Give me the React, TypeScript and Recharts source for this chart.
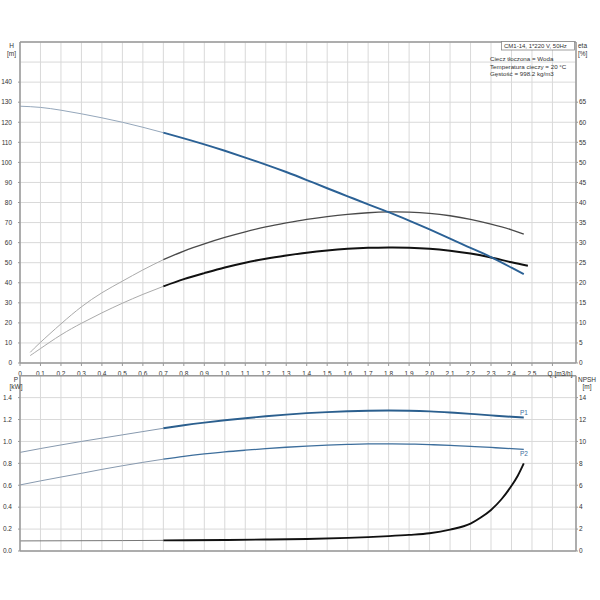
import React from 'react';
import { LineChart, Line, XAxis, YAxis, CartesianGrid, ReferenceLine } from 'recharts';

// ---- axis ticks ----
const qTicks = [0, 0.1, 0.2, 0.3, 0.4, 0.5, 0.6, 0.7, 0.8, 0.9, 1.0, 1.1, 1.2, 1.3, 1.4, 1.5, 1.6, 1.7, 1.8, 1.9, 2.0, 2.1, 2.2, 2.3, 2.4, 2.5, 2.6];
const hTicks = [0, 10, 20, 30, 40, 50, 60, 70, 80, 90, 100, 110, 120, 130, 140];
const etaTicks = [0, 5, 10, 15, 20, 25, 30, 35, 40, 45, 50, 55, 60, 65];
const pTicks = [0, 0.2, 0.4, 0.6, 0.8, 1.0, 1.2, 1.4];
const npshTicks = [0, 2, 4, 6, 8, 10, 12, 14];

// ---- Q-H curve ----
const qHead = [0, 0.1, 0.2, 0.3, 0.4, 0.5, 0.6, 0.7, 0.8, 0.9, 1.0, 1.1, 1.2, 1.3, 1.4, 1.5, 1.6, 1.7, 1.8, 1.9, 2.0, 2.1, 2.2, 2.3, 2.4, 2.46];
const head = [128, 127.4, 126, 124.2, 122.2, 120, 117.5, 114.8, 112, 109, 105.8, 102.4, 98.9, 95.2, 91.2, 87.1, 83.1, 79.1, 75.2, 71.0, 66.6, 62.0, 57.4, 52.8, 47.5, 44.3];

// ---- efficiency curves [%] ----
const qEtaPump = [0.05, 0.1, 0.2, 0.3, 0.4, 0.5, 0.6, 0.7, 0.8, 0.9, 1.0, 1.1, 1.2, 1.3, 1.4, 1.5, 1.6, 1.7, 1.8, 1.9, 2.0, 2.1, 2.2, 2.3, 2.4, 2.46];
const etaPump = [2.65, 5.15, 9.75, 14.0, 17.5, 20.4, 23.2, 25.75, 27.9, 29.7, 31.3, 32.7, 33.9, 34.9, 35.8, 36.5, 37.05, 37.45, 37.65, 37.6, 37.3, 36.7, 35.8, 34.6, 33.2, 32.1];
const qEtaTotal = [0.05, 0.1, 0.2, 0.3, 0.4, 0.5, 0.6, 0.7, 0.8, 0.9, 1.0, 1.1, 1.2, 1.3, 1.4, 1.5, 1.6, 1.7, 1.8, 1.9, 2.0, 2.1, 2.2, 2.3, 2.4, 2.48];
const etaTotal = [1.85, 3.6, 7.0, 9.9, 12.5, 14.9, 17.1, 19.1, 20.9, 22.4, 23.8, 25.0, 26.0, 26.8, 27.5, 28.05, 28.45, 28.7, 28.8, 28.75, 28.5, 28.0, 27.3, 26.3, 25.1, 24.25];

// ---- power curves [kW] ----
const qPower = [0, 0.1, 0.2, 0.3, 0.4, 0.5, 0.6, 0.7, 0.8, 0.9, 1.0, 1.1, 1.2, 1.3, 1.4, 1.5, 1.6, 1.7, 1.8, 1.9, 2.0, 2.1, 2.2, 2.3, 2.4, 2.46];
const p1 = [0.9, 0.935, 0.968, 1.0, 1.03, 1.06, 1.09, 1.12, 1.148, 1.172, 1.193, 1.212, 1.23, 1.245, 1.258, 1.268, 1.275, 1.28, 1.282, 1.28, 1.274, 1.264, 1.252, 1.238, 1.225, 1.218];
const p2 = [0.603, 0.64, 0.675, 0.709, 0.745, 0.778, 0.809, 0.838, 0.864, 0.886, 0.905, 0.92, 0.934, 0.947, 0.958, 0.967, 0.973, 0.977, 0.978, 0.976, 0.971, 0.964, 0.955, 0.945, 0.934, 0.927];

// ---- NPSH [m] ----
const qNpsh = [0, 0.5, 0.7, 1.0, 1.2, 1.4, 1.6, 1.7, 1.8, 1.9, 2.0, 2.1, 2.2, 2.25, 2.3, 2.35, 2.4, 2.43, 2.46];
const npsh = [0.92, 0.95, 0.97, 1.0, 1.05, 1.1, 1.2, 1.27, 1.36, 1.47, 1.62, 1.95, 2.5, 3.05, 3.75, 4.7, 5.95, 6.85, 8.0];

const CUT = 0.7;
function build(q: number[], v: number[]) {
  const pts = q.map((x, i) => ({ q: x, v: v[i] }));
  return { thin: pts.filter((p) => p.q <= CUT), thick: pts.filter((p) => p.q >= CUT) };
}
const headD = build(qHead, head);
const etaPD = build(qEtaPump, etaPump);
const etaTD = build(qEtaTotal, etaTotal);
const p1D = build(qPower, p1);
const p2D = build(qPower, p2);
const npshD = build(qNpsh, npsh);

const FONT = 'Liberation Sans, Arial, sans-serif';
const tickStyle = { fontSize: 6.5, fill: '#333', fontFamily: FONT };
const axisLine = { stroke: '#999', strokeWidth: 1.5 };
const gridColor = '#d9d9d9';
const Q_MAX = 2.715;

const fmtQ = (v: number) => (v === 2.6 ? '' : v === 0 ? '0' : v.toFixed(1).replace('.', ','));

export default function App() {
  return (
    <div style={{ position: 'absolute', left: 0, top: 0, width: 600, height: 600, fontFamily: FONT, background: '#fff' }}>
      <div style={{ position: 'absolute', left: 0, top: 0 }}>
        <LineChart width={600} height={385} margin={{ top: 42, right: 0, bottom: 0, left: 0 }}>
          <CartesianGrid yAxisId="h" stroke={gridColor} strokeWidth={1} />
          <XAxis type="number" dataKey="q" domain={[0, Q_MAX]} ticks={qTicks} tickFormatter={fmtQ} interval={0}
            height={22} tick={tickStyle} tickSize={3} tickMargin={5} axisLine={axisLine} tickLine={{ stroke: '#999' }} allowDataOverflow />
          <YAxis yAxisId="h" orientation="left" type="number" domain={[0, 160]} ticks={hTicks} interval={0} width={20}
            tick={tickStyle} tickSize={2} tickMargin={6} axisLine={axisLine} tickLine={{ stroke: '#999' }} />
          <YAxis yAxisId="eta" orientation="right" type="number" domain={[0, 80]} ticks={etaTicks} interval={0} width={24}
            tick={tickStyle} tickSize={2} tickMargin={1} axisLine={axisLine} tickLine={{ stroke: '#999' }} />
          <ReferenceLine yAxisId="h" y={150} stroke={gridColor} />
          <ReferenceLine yAxisId="h" y={160} stroke="#999" strokeWidth={1.5} />
          <Line yAxisId="eta" data={etaPD.thin} dataKey="v" type="natural" stroke="#aaaaaa" strokeWidth={1} dot={false} isAnimationActive={false} />
          <Line yAxisId="eta" data={etaPD.thick} dataKey="v" type="natural" stroke="#4a4a4a" strokeWidth={1.3} dot={false} isAnimationActive={false} />
          <Line yAxisId="eta" data={etaTD.thin} dataKey="v" type="natural" stroke="#aaaaaa" strokeWidth={1} dot={false} isAnimationActive={false} />
          <Line yAxisId="eta" data={etaTD.thick} dataKey="v" type="natural" stroke="#111111" strokeWidth={2} dot={false} isAnimationActive={false} />
          <Line yAxisId="h" data={headD.thin} dataKey="v" type="natural" stroke="#95a7bb" strokeWidth={1} dot={false} isAnimationActive={false} />
          <Line yAxisId="h" data={headD.thick} dataKey="v" type="natural" stroke="#2b6195" strokeWidth={1.9} dot={false} isAnimationActive={false} />
        </LineChart>
      </div>
      <div style={{ position: 'absolute', left: 0, top: 360 }}>
        <LineChart width={600} height={205} margin={{ top: 15.7, right: 0, bottom: 0, left: 0 }}>
          <CartesianGrid yAxisId="p" stroke={gridColor} strokeWidth={1} />
          <XAxis type="number" dataKey="q" domain={[0, Q_MAX]} ticks={qTicks} interval={0} height={14}
            tickFormatter={() => ''} tickLine={false} axisLine={axisLine} allowDataOverflow />
          <YAxis yAxisId="p" orientation="left" type="number" domain={[0, 1.6]} ticks={pTicks} interval={0} width={20}
            tickFormatter={(v: number) => v.toFixed(1)}
            tick={tickStyle} tickSize={2} tickMargin={6} axisLine={axisLine} tickLine={{ stroke: '#999' }} />
          <YAxis yAxisId="n" orientation="right" type="number" domain={[0, 16]} ticks={npshTicks} interval={0} width={24}
            tick={tickStyle} tickSize={2} tickMargin={1} axisLine={axisLine} tickLine={{ stroke: '#999' }} />
          <ReferenceLine yAxisId="p" y={1.6} stroke="#999" strokeWidth={1.5} />
          <Line yAxisId="p" data={p1D.thin} dataKey="v" type="natural" stroke="#8799ae" strokeWidth={1} dot={false} isAnimationActive={false} />
          <Line yAxisId="p" data={p1D.thick} dataKey="v" type="natural" stroke="#2b5f8e" strokeWidth={1.9} dot={false} isAnimationActive={false} />
          <Line yAxisId="p" data={p2D.thin} dataKey="v" type="natural" stroke="#8799ae" strokeWidth={1} dot={false} isAnimationActive={false} />
          <Line yAxisId="p" data={p2D.thick} dataKey="v" type="natural" stroke="#3d6e9c" strokeWidth={1.3} dot={false} isAnimationActive={false} />
          <Line yAxisId="n" data={npshD.thin} dataKey="v" type="monotone" stroke="#777777" strokeWidth={1} dot={false} isAnimationActive={false} />
          <Line yAxisId="n" data={npshD.thick} dataKey="v" type="monotone" stroke="#111111" strokeWidth={1.9} dot={false} isAnimationActive={false} />
        </LineChart>
      </div>
      <svg width={600} height={600} style={{ position: 'absolute', left: 0, top: 0, pointerEvents: 'none' }}
        fontFamily={FONT} fill="#333">
        <text x={11.5} y={47.5} fontSize={6.5} textAnchor="middle">H</text>
        <text x={11.5} y={56} fontSize={6.5} textAnchor="middle">[m]</text>
        <text x={578} y={47.5} fontSize={6.5}>eta</text>
        <text x={578} y={56} fontSize={6.5}>[%]</text>
        <text x={16} y={381.5} fontSize={6.5} textAnchor="middle">P</text>
        <text x={16} y={389} fontSize={6.5} textAnchor="middle">[kW]</text>
        <text x={587} y={381.5} fontSize={6.5} textAnchor="middle">NPSH</text>
        <text x={587} y={389} fontSize={6.5} textAnchor="middle">[m]</text>
        <text x={560} y={375.5} fontSize={6.5} textAnchor="middle">Q [m3/h]</text>
        <rect x={501.5} y={41.5} width={73} height={8.5} fill="#fff" stroke="#888" strokeWidth={0.8} />
        <text x={504} y={48.3} fontSize={6}>CM1-14, 1*220 V, 50Hz</text>
        <text x={490} y={61.2} fontSize={6.2}>Ciecz tłoczona = Woda</text>
        <text x={490} y={68.6} fontSize={6.2}>Temperatura cieczy = 20 °C</text>
        <text x={490} y={75.8} fontSize={6.2}>Gęstość = 998.2 kg/m3</text>
        <text x={520} y={415} fontSize={6.5} fill="#3d6e9c">P1</text>
        <text x={520} y={455.5} fontSize={6.5} fill="#3d6e9c">P2</text>
      </svg>
    </div>
  );
}
